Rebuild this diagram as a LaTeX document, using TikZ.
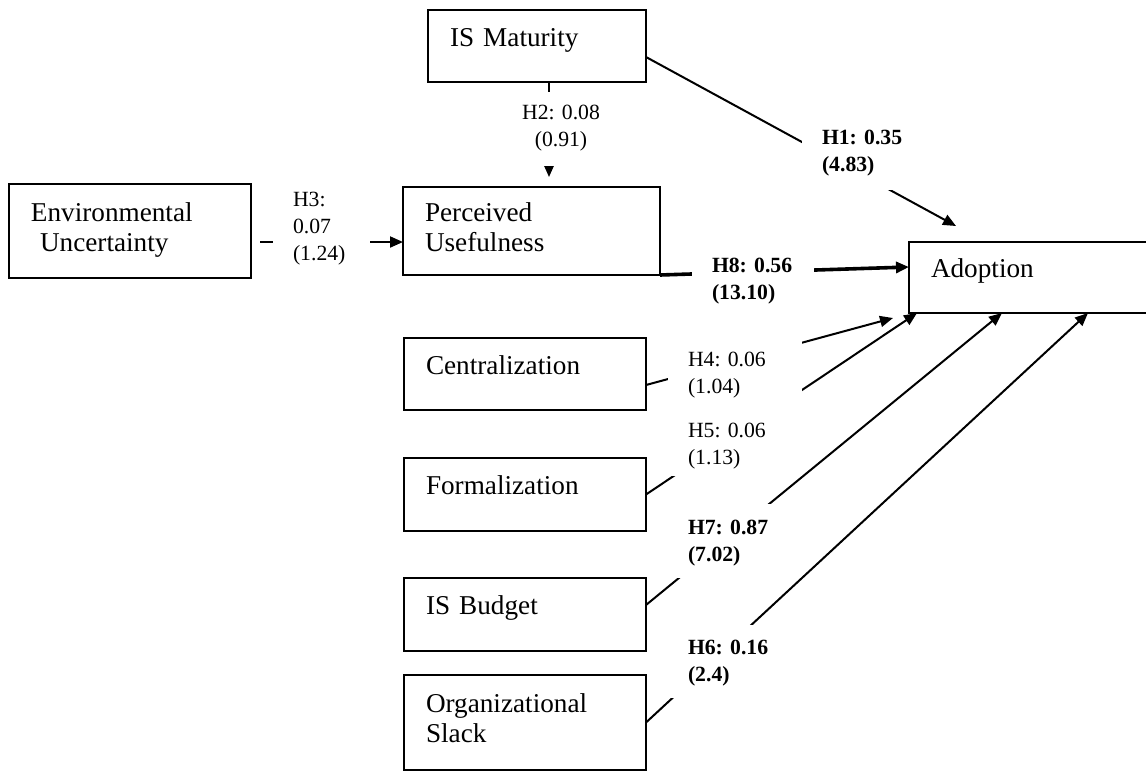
\documentclass[tikz,border=0pt]{standalone}
\usepackage{fontspec}
\setmainfont{Liberation Serif}
\usetikzlibrary{arrows.meta, positioning}
\newcommand{\boxfont}{\fontsize{13.6}{15}\selectfont}
\newcommand{\labfont}{\fontsize{10.85}{13.5}\selectfont\frenchspacing}
\tikzstyle{var} = [rectangle, draw=black, line width=1.1pt, inner xsep=11pt, inner ysep=0pt, align=left, anchor=north west, text height=9pt, text depth=9pt, font=\boxfont]
\tikzstyle{var2} = [var, text depth=19pt]
\tikzstyle{arrow} = [-{Triangle[length=6.5pt, width=5.5pt]}, draw=black, line width=1pt]
\tikzstyle{lab} = [fill=white, inner xsep=10pt, inner ysep=2pt, align=left, anchor=north west, font=\labfont]
\tikzstyle{blab} = [lab, font=\labfont\bfseries]

\begin{document}
\begin{tikzpicture}[x=0.5pt, y=-0.5pt, outer sep=0pt]
	\useasboundingbox (0,0) rectangle (1146,772);
	% CONSTRUCTS
	\node (ISM) [var, text width=87pt, minimum height=36pt] at (428,10) {IS Maturity};
	\node (env) [var2, text width=99pt, minimum height=47pt] at (9,184) {Environmental\\~Uncertainty};
	\node (PU) [var2, text width=106.5pt, minimum height=44pt] at (403,187) {Perceived\\Usefulness};
	\node (Adoption) [var, text width=108.5pt, minimum height=35.5pt] at (909,242) {Adoption};

	\node (cent) [var, text width=99pt, minimum height=36pt] at (404,338) {Centralization};
	\node (form) [var, text width=99pt, minimum height=36.5pt, below=24pt of cent] {Formalization};
	\node (budget) [var, text width=99pt, minimum height=36.5pt, below=23.5pt of form] {IS Budget};
	\node (slack) [var2, text width=99pt, minimum height=47.5pt, below=12pt of budget] {Organizational\\Slack};

	% PATHS
	\draw [arrow] ([yshift=-5.5pt]ISM.east) -- ([xshift=23.5pt, yshift=8pt]Adoption.north west);
	\draw [arrow] ([xshift=60.5pt]ISM.south west) -- ([xshift=73pt, yshift=5pt]PU.north west);
	\draw [arrow] ([xshift=4.5pt, yshift=-5.5pt]env.east) -- ([yshift=-5.5pt]PU.west);
	\draw [arrow, line width=1.8pt] (PU.south east) -- ([yshift=5.25pt]Adoption.west);
	\draw [arrow] ([yshift=-5.5pt]cent.east) -- ([xshift=-8pt, yshift=-2.5pt]Adoption.south west);
	\draw [arrow] (form.east) -- ([xshift=4pt]Adoption.south west);
	\draw [arrow] ([yshift=4.75pt]budget.east) -- ([xshift=46.5pt]Adoption.south west);
	\draw [arrow] (slack.east) -- ([xshift=89.5pt]Adoption.south west);

	% COEFFICIENTS
	\node (h1) [blab, text width=42pt, text height=9pt, text depth=21pt] at (802,122) {H1: 0.35\\(4.83)};
	\node (h2) [lab, align=center, text width=42pt, text height=11.5pt, text depth=21.5pt] at (499,92) {H2: 0.08\\(0.91)};
	\node (h3) [lab, text width=28.5pt, text height=9pt, text depth=31pt] at (273,184) {H3:\\0.07\\(1.24)};
	\node (h8) [blab, text width=41pt, text height=8pt, text depth=16pt] at (692,252) {H8: 0.56\\(13.10)};
	\node (h4) [lab, text width=47pt, text height=13pt, text depth=17pt] at (668,336) {H4: 0.06\\(1.04)};
	\node (h5) [lab, text width=47pt, text height=16.5pt, text depth=17.5pt] at (668,400) {H5: 0.06\\(1.13)};
	\node (h7) [blab, text width=42pt, text height=13pt, text depth=20pt] at (668,504) {H7: 0.87\\(7.02)};
	\node (h6) [blab, text width=42pt, text height=12.5pt, text depth=20pt] at (668,625) {H6: 0.16\\(2.4)};
\end{tikzpicture}
\end{document}
